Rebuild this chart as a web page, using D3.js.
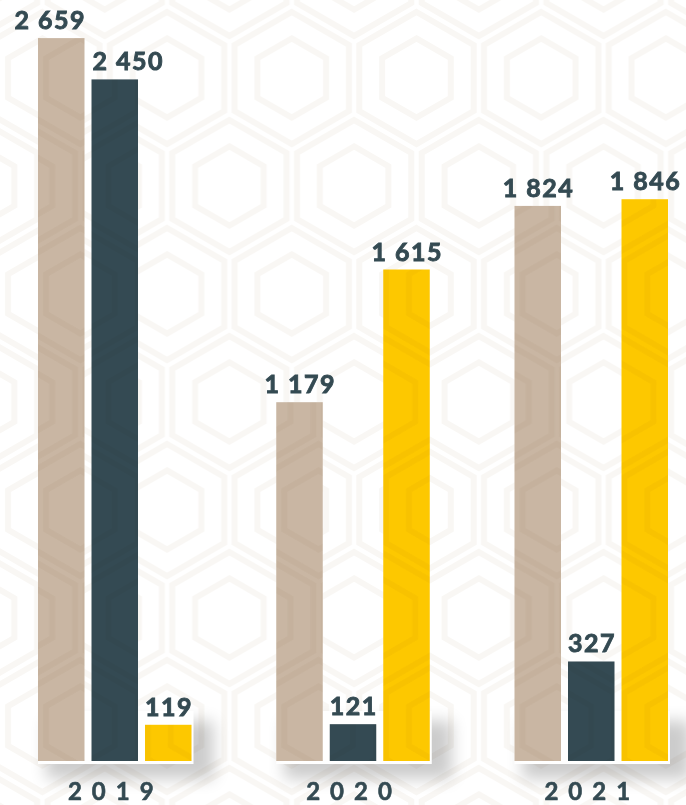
<!DOCTYPE html>
<html>
<head>
<meta charset="utf-8">
<script src="https://cdn.jsdelivr.net/npm/d3@7/dist/d3.min.js"></script>
<style>
  html, body { margin: 0; padding: 0; background: #ffffff; }
  svg { display: block; }
</style>
</head>
<body>
<div id="chart"></div>
<script>
// ---- data ----
const years = ["2019", "2020", "2021"];
const seriesKeys = ["beige", "slate", "yellow"];
const beigeValues  = [2659, 1179, 1824];
const slateValues  = [2450, 121, 327];
const yellowValues = [119, 1615, 1846];
const valueLabels = [
  ["2 659", "2 450", "119"],
  ["1 179", "121", "1 615"],
  ["1 824", "327", "1 846"]
];

const colors = { beige: "#c9b6a3", slate: "#344a53", yellow: "#fdc800" };
const textColor = "#344a52";

const W = 686, H = 805;
const baseline = 761;

const table = years.map((y, i) => ({
  year: y,
  values: [
    { key: "beige", value: beigeValues[i], label: valueLabels[i][0] },
    { key: "slate", value: slateValues[i], label: valueLabels[i][1] },
    { key: "yellow", value: yellowValues[i], label: valueLabels[i][2] }
  ]
}));

const svg = d3.select("#chart").append("svg").attr("width", W).attr("height", H);
const defs = svg.append("defs");

// background pattern (nested hexagons)
const R = 72, hw = Math.sqrt(3) * R, th = 3 * R;
const pat = defs.append("pattern").attr("id", "hexpat")
  .attr("patternUnits", "userSpaceOnUse")
  .attr("width", hw).attr("height", th)
  .attr("x", -20).attr("y", -30);
function hexPath(cx, cy, r) {
  const pts = d3.range(6).map(k => {
    const a = (Math.PI / 180) * (60 * k - 90);
    return [cx + r * Math.cos(a), cy + r * Math.sin(a)];
  });
  return "M" + pts.map(p => p.join(",")).join("L") + "Z";
}
const centers = [[0, 0], [hw, 0], [hw / 2, 1.5 * R], [0, 3 * R], [hw, 3 * R]];
centers.forEach(c => {
  [R - 6, R * 0.55].forEach(r => {
    pat.append("path").attr("d", hexPath(c[0], c[1], r))
      .attr("fill", "none").attr("stroke", "#f9f7f4").attr("stroke-width", 6);
  });
});

// shadow filter
const f = defs.append("filter").attr("id", "blur")
  .attr("x", "-30%").attr("y", "-60%").attr("width", "160%").attr("height", "220%");
f.append("feGaussianBlur").attr("stdDeviation", 8);

svg.append("rect").attr("width", W).attr("height", H).attr("fill", "#ffffff");
svg.append("rect").attr("width", W).attr("height", H).attr("fill", "url(#hexpat)");

// scales
const x0 = d3.scaleBand().domain(years).range([38, 668]).paddingInner(0.3557).paddingOuter(0);
const x1 = d3.scaleBand().domain(seriesKeys).range([0, x0.bandwidth()]).paddingInner(0.131).paddingOuter(0);
const y = d3.scaleLinear().domain([0, 1850, 2700]).range([baseline, baseline - 563, baseline - 731]);

const groups = svg.selectAll("g.grp").data(table).join("g")
  .attr("class", "grp")
  .attr("transform", d => `translate(${x0(d.year)},0)`);

// drop shadow under each group
groups.append("rect")
  .attr("x", 8).attr("y", baseline - 40)
  .attr("width", x0.bandwidth() + 14).attr("height", 58)
  .attr("fill", "#000").attr("opacity", 0.2)
  .attr("filter", "url(#blur)");
// white panel behind bars
groups.append("rect")
  .attr("x", 0).attr("y", baseline - 50)
  .attr("width", x0.bandwidth() + 2).attr("height", 53)
  .attr("fill", "#ffffff");

groups.selectAll("rect.bar").data(d => d.values).join("rect")
  .attr("class", "bar")
  .attr("x", d => x1(d.key))
  .attr("y", d => y(d.value))
  .attr("width", x1.bandwidth())
  .attr("height", d => baseline - y(d.value))
  .attr("fill", d => colors[d.key]);

// pattern overlay on bars (subtle)
groups.selectAll("rect.barpat").data(d => d.values).join("rect")
  .attr("class", "barpat")
  .attr("x", d => x1(d.key))
  .attr("y", d => y(d.value))
  .attr("width", x1.bandwidth())
  .attr("height", d => baseline - y(d.value))
  .attr("fill", "url(#hexpat)")
  .style("mix-blend-mode", "multiply")
  .attr("opacity", 0.8);

// value labels
const fs = 25, ls = 1.5;
const labels = groups.selectAll("text.val").data(d => d.values).join("text")
  .attr("class", "val")
  .attr("x", d => x1(d.key) + x1.bandwidth() / 2 + ls / 2)
  .attr("y", d => y(d.value) - 9)
  .attr("text-anchor", "middle")
  .attr("font-family", "Lato, 'Open Sans', sans-serif")
  .attr("font-weight", 700)
  .attr("font-size", fs)
  .attr("letter-spacing", ls)
  .attr("fill", textColor)
  .attr("stroke", textColor)
  .attr("stroke-width", 0.9)
  .text(d => d.label);

// dodge overlapping neighbouring labels
groups.each(function () {
  const t = d3.select(this).selectAll("text.val").nodes();
  for (let i = 0; i < t.length - 1; i++) {
    const a = t[i].getBBox(), b = t[i + 1].getBBox();
    const da = d3.select(t[i]).datum(), db = d3.select(t[i + 1]).datum();
    const hOverlap = a.x + a.width > b.x;
    const dy = Math.abs(y(da.value) - y(db.value));
    if (hOverlap && dy < 2 * fs) {
      d3.select(t[i]).attr("text-anchor", "end").attr("x", x1(da.key) + x1.bandwidth() + ls);
      d3.select(t[i + 1]).attr("text-anchor", "start").attr("x", x1(db.key) + 1);
    }
  }
});

// category axis labels
const xAxis = d3.axisBottom(x0).tickSize(0).tickPadding(0);
const ax = svg.append("g").attr("transform", `translate(0, ${baseline})`).call(xAxis);
ax.select(".domain").remove();
ax.selectAll("text")
  .attr("y", 39)
  .attr("dy", 0)
  .attr("dx", 1)
  .attr("font-family", "Lato, 'Open Sans', sans-serif")
  .attr("font-weight", 700)
  .attr("font-size", 24)
  .attr("letter-spacing", 10)
  .attr("fill", textColor)
  .attr("stroke", textColor)
  .attr("stroke-width", 0.6);
</script>
</body>
</html>
